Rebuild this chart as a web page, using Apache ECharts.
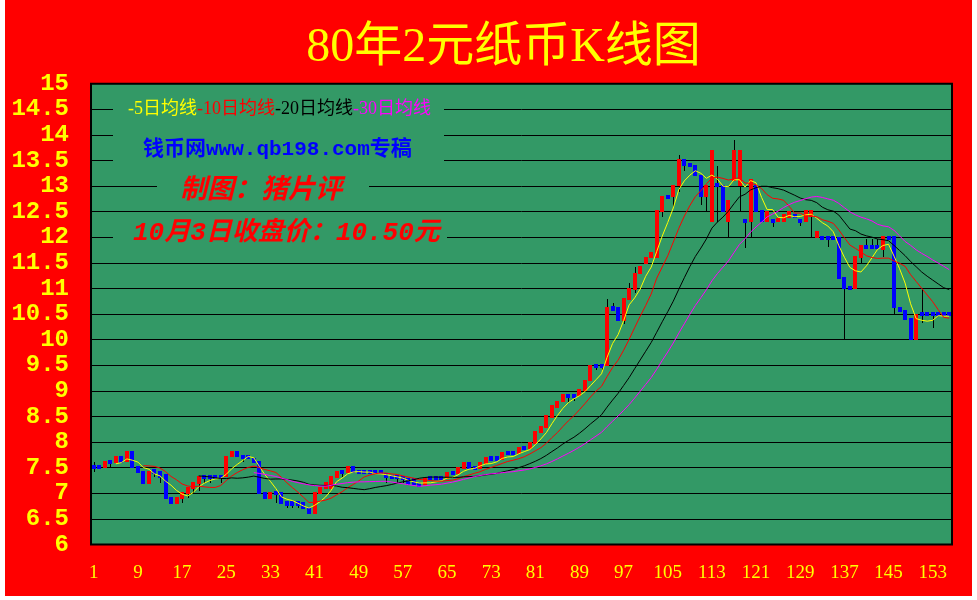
<!DOCTYPE html>
<html>
<head>
<meta charset="utf-8">
<title>80年2元纸币K线图</title>
<script src="https://cdn.jsdelivr.net/npm/echarts/dist/echarts.min.js"></script>
<style>
html,body{margin:0;padding:0;background:#ffffff;}
#c{position:absolute;left:5px;top:0;width:967px;height:596px;}
</style>
</head>
<body>
<div id="c"></div>
<script>
// ---------- data ----------
const candleCount = 156;
const categories = [];
for (let i = 1; i <= candleCount; i++) categories.push(String(i));

const opens = [
  7.56,7.55,7.50,7.65,7.59,7.73,7.61,7.83,7.53,7.43,
  7.19,7.47,7.43,7.37,6.92,6.79,6.89,6.99,7.09,7.18,
  7.36,7.36,7.36,7.36,7.32,7.70,7.83,7.75,7.75,7.68,
  7.64,7.02,6.89,7.04,7.02,6.84,6.84,6.84,6.83,6.73,
  6.59,6.99,7.09,7.09,7.30,7.45,7.40,7.53,7.45,7.45,
  7.45,7.45,7.45,7.40,7.36,7.36,7.34,7.30,7.30,7.20,
  7.17,7.34,7.34,7.34,7.27,7.43,7.37,7.48,7.61,7.53,
  7.48,7.57,7.73,7.73,7.66,7.83,7.83,7.76,7.93,7.86,
  7.96,8.18,8.28,8.47,8.67,8.78,8.94,8.94,8.90,8.99,
  9.19,9.53,9.53,9.48,10.65,10.63,10.37,10.78,10.98,11.28,
  11.48,11.59,11.59,12.49,12.83,12.78,13.00,13.52,13.45,13.42,
  13.22,12.78,12.29,13.05,13.03,12.29,13.09,13.00,12.35,12.29,
  13.03,12.54,12.29,12.35,12.29,12.29,12.38,12.46,12.36,12.29,
  12.39,11.99,12.03,12.03,12.03,12.00,11.22,11.04,10.99,11.59,
  11.84,11.84,11.84,11.76,12.03,12.02,10.64,10.58,10.43,10.00,
  10.54,10.54,10.54,10.54,10.54,10.54
];
const closes = [
  7.47,7.47,7.63,7.58,7.73,7.59,7.83,7.50,7.40,7.19,
  7.43,7.38,7.30,6.89,6.79,6.92,7.02,7.12,7.22,7.34,
  7.28,7.28,7.28,7.28,7.73,7.83,7.70,7.67,7.67,7.60,
  6.99,6.89,7.02,6.96,6.79,6.76,6.76,6.76,6.69,6.59,
  7.02,7.12,7.22,7.34,7.43,7.38,7.53,7.40,7.38,7.38,
  7.38,7.38,7.38,7.30,7.27,7.27,7.26,7.16,7.16,7.14,
  7.30,7.26,7.26,7.26,7.41,7.36,7.51,7.61,7.47,7.47,
  7.61,7.71,7.64,7.64,7.81,7.75,7.75,7.91,7.85,8.01,
  8.22,8.32,8.52,8.72,8.81,8.93,8.88,8.88,9.03,9.21,
  9.51,9.46,9.46,10.63,10.57,10.37,10.82,11.01,11.31,11.43,
  11.62,11.72,12.54,12.81,12.76,13.03,13.52,13.39,13.37,13.19,
  12.78,13.03,13.71,12.98,12.50,12.72,13.71,13.71,12.27,13.13,
  12.50,12.29,12.52,12.27,12.37,12.46,12.52,12.39,12.29,12.53,
  12.53,12.12,11.96,11.96,11.96,11.18,10.99,10.97,11.63,11.84,
  11.78,11.78,11.78,12.02,11.96,10.62,10.55,10.38,10.00,10.51,
  10.46,10.46,10.46,10.46,10.46,10.46
];
// wicks that are visible in the picture: [candle number, price]
const lowWicks = [
  [1,7.42],[4,7.52],[12,7.32],[13,7.20],[17,6.81],[18,6.91],[19,6.99],[20,7.05],
  [21,7.20],[22,7.20],[24,7.20],[28,7.62],[34,6.81],[36,6.71],[37,6.71],[38,6.71],
  [46,7.32],[54,7.20],[56,7.20],[57,7.20],[87,8.79],[88,8.80],[92,9.41],[93,9.41],
  [97,10.30],[99,10.91],[104,12.40],[106,12.59],[107,12.89],[108,13.30],[111,12.64],
  [112,12.50],[114,12.29],[116,12.00],[118,12.50],[119,11.80],[120,12.00],[124,12.20],
  [129,12.22],[131,11.99],[134,11.81],[137,10.00],[140,11.50],[144,11.61],[146,10.50],
  [151,10.32],[153,10.22]
];
const highWicks = [
  [1,7.62],[94,10.80],[95,10.71],[98,11.10],[99,11.42],[107,13.60],[114,13.40],
  [117,13.91],[141,11.97],[142,11.97],[143,11.97],[151,11.00]
];
const yTickMin = 6, yTickMax = 15, yTickStep = 0.5;
const maPeriods = [5, 10, 20, 30];
const maColors = ['#FFFF00', '#FF0000', '#000000', '#FF00FF'];

// ---------- build library data ----------
const lows = opens.map((o, i) => Math.min(o, closes[i]));
const highs = opens.map((o, i) => Math.max(o, closes[i]));
lowWicks.forEach(([n, v]) => { lows[n - 1] = v; });
highWicks.forEach(([n, v]) => { highs[n - 1] = v; });
const candleData = opens.map((o, i) => [i, o, closes[i], lows[i], highs[i]]);

function movingAverage(values, n) {
  return values.map((v, i) => {
    if (i < n - 1) return null;
    let s = 0;
    for (let k = i - n + 1; k <= i; k++) s += values[k];
    return +(s / n).toFixed(3);
  });
}

function renderCandle(params, api) {
  const x = api.value(0);
  const o = api.value(1), c = api.value(2), l = api.value(3), h = api.value(4);
  const po = api.coord([x, o]);
  const pc = api.coord([x, c]);
  const pl = api.coord([x, l]);
  const ph = api.coord([x, h]);
  const band = api.size([1, 0])[0];
  const bw = Math.round(band * 0.76);
  let top = Math.min(po[1], pc[1]);
  let bot = Math.max(po[1], pc[1]);
  if (bot - top < 4) { const m = (top + bot) / 2; top = m - 2; bot = m + 2; }
  top = Math.round(top); bot = Math.round(bot);
  const left = Math.round(po[0] - bw / 2);
  const wx = left + Math.floor(bw / 2) + 0.5;
  const color = c > o ? '#FF0000' : '#0000FF';
  return {
    type: 'group',
    children: [
      { type: 'line', shape: { x1: wx, y1: Math.round(ph[1]), x2: wx, y2: Math.round(pl[1]) },
        style: { stroke: '#000000', lineWidth: 1 } },
      { type: 'rect', shape: { x: left, y: top, width: bw, height: Math.max(bot - top, 1) },
        style: { fill: color } }
    ]
  };
}

const GREEN = '#339966';
const chart = echarts.init(document.getElementById('c'));
const maSeries = maPeriods.map((p, k) => ({
  name: 'MA' + p,
  type: 'line',
  data: movingAverage(closes, p),
  showSymbol: false,
  symbol: 'none',
  silent: true,
  lineStyle: { color: maColors[k], width: 1 },
  itemStyle: { color: maColors[k] },
  z: 3
}));

const option = {
  animation: false,
  backgroundColor: '#FF0000',
  grid: {
    left: 86, top: 83.7, width: 861, height: 460.8,
    show: true, backgroundColor: GREEN, borderColor: '#000000', borderWidth: 2
  },
  xAxis: {
    type: 'category',
    data: categories,
    boundaryGap: true,
    axisLine: { show: false },
    axisTick: { show: false },
    splitLine: { show: false },
    axisLabel: {
      interval: 7, color: '#FFFF00', fontFamily: '"Liberation Serif", serif',
      fontSize: 19, margin: 19
    }
  },
  yAxis: {
    type: 'value',
    min: yTickMin, max: yTickMax, interval: yTickStep,
    axisLine: { show: false },
    axisTick: { show: false },
    splitLine: { show: true, lineStyle: { color: '#000000', width: 1 } },
    axisLabel: {
      color: '#FFFF00', fontFamily: '"Liberation Mono", monospace', fontWeight: 'bold',
      fontSize: 24, margin: 22
    }
  },
  series: [
    { type: 'custom', name: 'K', renderItem: renderCandle, data: candleData,
      encode: { x: 0, y: [1, 2, 3, 4] }, silent: true, z: 2 }
  ].concat(maSeries),
  graphic: [
    { type: 'text', x: 498.5, y: 48.5, z: 5,
      style: { text: '80年2元纸币K线图', fill: '#FFFF00',
        font: '48px "Liberation Serif", "Noto Sans CJK SC"',
        align: 'center', verticalAlign: 'middle', textAlign: 'center', textVerticalAlign: 'middle' } },
    { type: 'rect', z: 4, shape: { x: 108, y: 96, width: 331, height: 76 }, style: { fill: GREEN } },
    { type: 'rect', z: 4, shape: { x: 152, y: 175, width: 212, height: 26 }, style: { fill: GREEN } },
    { type: 'rect', z: 4, shape: { x: 108, y: 219, width: 334, height: 30 }, style: { fill: GREEN } },
    { type: 'text', x: 123, y: 109, z: 5,
      style: {
        text: '{y|-5日均线}{r|-10日均线}{k|-20日均线}{m|-30日均线}',
        font: '18px "Liberation Serif", "Noto Sans CJK SC"',
        align: 'left', verticalAlign: 'middle', textAlign: 'left', textVerticalAlign: 'middle',
        rich: {
          y: { fill: '#FFFF00', fontSize: 18, fontFamily: '"Liberation Serif", "Noto Sans CJK SC"' },
          r: { fill: '#FF0000', fontSize: 18, fontFamily: '"Liberation Serif", "Noto Sans CJK SC"' },
          k: { fill: '#000000', fontSize: 18, fontFamily: '"Liberation Serif", "Noto Sans CJK SC"' },
          m: { fill: '#FF00FF', fontSize: 18, fontFamily: '"Liberation Serif", "Noto Sans CJK SC"' }
        }
      } },
    { type: 'text', x: 138, y: 150, z: 5,
      style: { text: '钱币网www.qb198.com专稿', fill: '#0000FF',
        font: 'bold 21px "Liberation Mono", "Noto Sans CJK SC"',
        align: 'left', verticalAlign: 'middle', textAlign: 'left', textVerticalAlign: 'middle' } },
    { type: 'text', x: 175, y: 188, z: 5,
      style: { text: '制图：猪片评', fill: '#FF0000',
        font: 'italic bold 27px "Noto Sans CJK SC"',
        align: 'left', verticalAlign: 'middle', textAlign: 'left', textVerticalAlign: 'middle' } },
    { type: 'text', x: 128, y: 233, z: 5,
      style: { text: '10月3日收盘价：10.50元', fill: '#FF0000',
        font: 'italic bold 26px "Liberation Mono", "Noto Sans CJK SC"',
        align: 'left', verticalAlign: 'middle', textAlign: 'left', textVerticalAlign: 'middle' } }
  ]
};
chart.setOption(option);
</script>
</body>
</html>
